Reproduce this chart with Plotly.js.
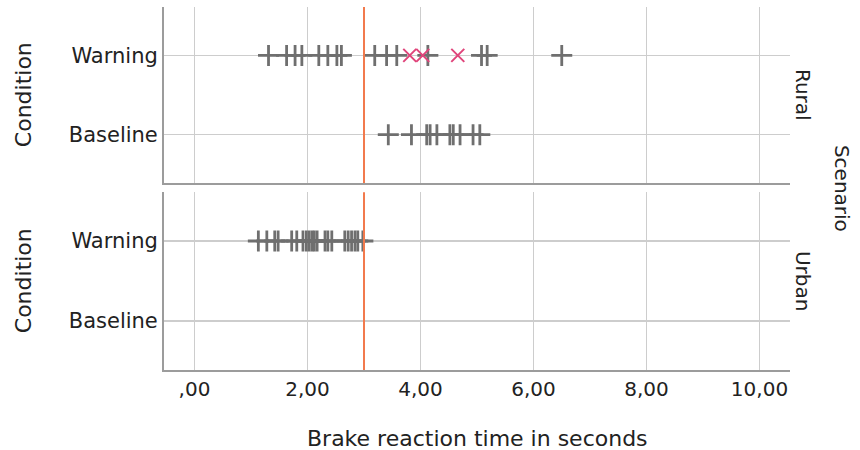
<!DOCTYPE html>
<html>
<head>
<meta charset="utf-8">
<script src="https://cdn.plot.ly/plotly-3.0.1.min.js"></script>
<style>html,body{margin:0;padding:0;background:#fff;}#chart{width:860px;height:450px;}</style>
</head>
<body>
<div id="chart"></div>
<script>
// Categories
const conditions = ['Baseline', 'Warning'];
const scenarios = ['Rural', 'Urban'];
const xTickVals = [0, 2, 4, 6, 8, 10];
const xTickText = [',00', '2,00', '4,00', '6,00', '8,00', '10,00'];
const thresholdValue = 3.0;

// Brake reaction times (seconds)
const ruralWarning = [1.31, 1.63, 1.78, 1.90, 2.20, 2.36, 2.52, 2.60, 3.19, 3.40, 3.58, 4.13, 5.08, 5.18, 6.50];
const ruralWarningOutliers = [3.81, 4.04, 4.66];
const ruralBaseline = [3.43, 3.84, 4.11, 4.17, 4.29, 4.52, 4.58, 4.70, 4.93, 5.05];
const urbanWarning = [1.13, 1.28, 1.42, 1.48, 1.72, 1.81, 1.92, 1.98, 2.03, 2.08, 2.12, 2.17, 2.31, 2.36, 2.43, 2.66, 2.72, 2.78, 2.84, 2.89, 2.98];
const urbanBaseline = [];

const FONT = 'DejaVu Sans, sans-serif';
const grey = '#6f6f6f';
const pink = '#e0457b';

function plusTrace(xs, cond, xa, ya) {
  return {
    type: 'scatter', mode: 'markers', x: xs, y: xs.map(() => cond),
    xaxis: xa, yaxis: ya, hoverinfo: 'skip', showlegend: false,
    marker: {symbol: 'cross-thin', size: 15, color: grey, line: {color: grey, width: 2.8}}
  };
}
function xTrace(xs, cond, xa, ya) {
  return {
    type: 'scatter', mode: 'markers', x: xs, y: xs.map(() => cond),
    xaxis: xa, yaxis: ya, hoverinfo: 'skip', showlegend: false,
    marker: {symbol: 'x-thin', size: 13, color: pink, line: {color: pink, width: 2}}
  };
}

const data = [
  plusTrace(ruralWarning, 'Warning', 'x2', 'y2'),
  plusTrace(ruralBaseline, 'Baseline', 'x2', 'y2'),
  xTrace(ruralWarningOutliers, 'Warning', 'x2', 'y2'),
  plusTrace(urbanWarning, 'Warning', 'x', 'y'),
  plusTrace(urbanBaseline, 'Baseline', 'x', 'y')
];

const gridC = '#cdcdcd';
const lineC = '#9c9c9c';
const yBase = {
  type: 'category', categoryorder: 'array', categoryarray: conditions,
  range: [-0.61, 1.61], showgrid: true, gridcolor: gridC, gridwidth: 1.5,
  showline: true, linecolor: lineC, linewidth: 2, ticks: '', zeroline: false,
  tickfont: {family: FONT, size: 21, color: '#222'}, fixedrange: true
};
const xBase = {
  range: [-0.54, 10.54], tickvals: xTickVals, ticktext: xTickText,
  showgrid: true, gridcolor: gridC, gridwidth: 1.5, zeroline: false,
  showline: true, linecolor: lineC, linewidth: 2, ticks: '',
  tickfont: {family: FONT, size: 20, color: '#222'}, fixedrange: true
};

const layout = {
  width: 860, height: 450,
  margin: {l: 164, r: 70, t: 7, b: 80},
  paper_bgcolor: '#fff', plot_bgcolor: '#fff',
  xaxis: Object.assign({}, xBase, {anchor: 'y', domain: [0, 1]}),
  xaxis2: Object.assign({}, xBase, {anchor: 'y2', domain: [0, 1], matches: 'x', showticklabels: false}),
  yaxis: Object.assign({}, yBase, {anchor: 'x', domain: [0, 0.49]}),
  yaxis2: Object.assign({}, yBase, {anchor: 'x2', domain: [0.515, 1]}),
  shapes: [
    {type: 'line', xref: 'x2', yref: 'y2 domain', x0: thresholdValue, x1: thresholdValue, y0: 0, y1: 1, line: {color: '#f27a4d', width: 2}},
    {type: 'line', xref: 'x', yref: 'y domain', x0: thresholdValue, x1: thresholdValue, y0: 0, y1: 1, line: {color: '#f27a4d', width: 2}}
  ],
  annotations: [
    {text: 'Brake reaction time in seconds', xref: 'paper', yref: 'paper', x: 0.5, y: -0.19, xanchor: 'center', yanchor: 'middle', showarrow: false, font: {family: FONT, size: 22, color: '#222'}},
    {text: 'Condition', xref: 'paper', yref: 'y2 domain', x: -0.225, y: 0.5, textangle: -90, xanchor: 'center', yanchor: 'middle', showarrow: false, font: {family: FONT, size: 22, color: '#222'}},
    {text: 'Condition', xref: 'paper', yref: 'y domain', x: -0.225, y: 0.5, textangle: -90, xanchor: 'center', yanchor: 'middle', showarrow: false, font: {family: FONT, size: 22, color: '#222'}},
    {text: scenarios[0], xref: 'paper', yref: 'y2 domain', x: 1.021, y: 0.5, textangle: 90, xanchor: 'center', yanchor: 'middle', showarrow: false, font: {family: FONT, size: 20, color: '#222'}},
    {text: scenarios[1], xref: 'paper', yref: 'y domain', x: 1.021, y: 0.5, textangle: 90, xanchor: 'center', yanchor: 'middle', showarrow: false, font: {family: FONT, size: 20, color: '#222'}},
    {text: 'Scenario', xref: 'paper', yref: 'paper', x: 1.084, y: 0.5, textangle: 90, xanchor: 'center', yanchor: 'middle', showarrow: false, font: {family: FONT, size: 20, color: '#222'}}
  ]
};

Plotly.newPlot('chart', data, layout, {staticPlot: true, displayModeBar: false});
</script>
</body>
</html>
